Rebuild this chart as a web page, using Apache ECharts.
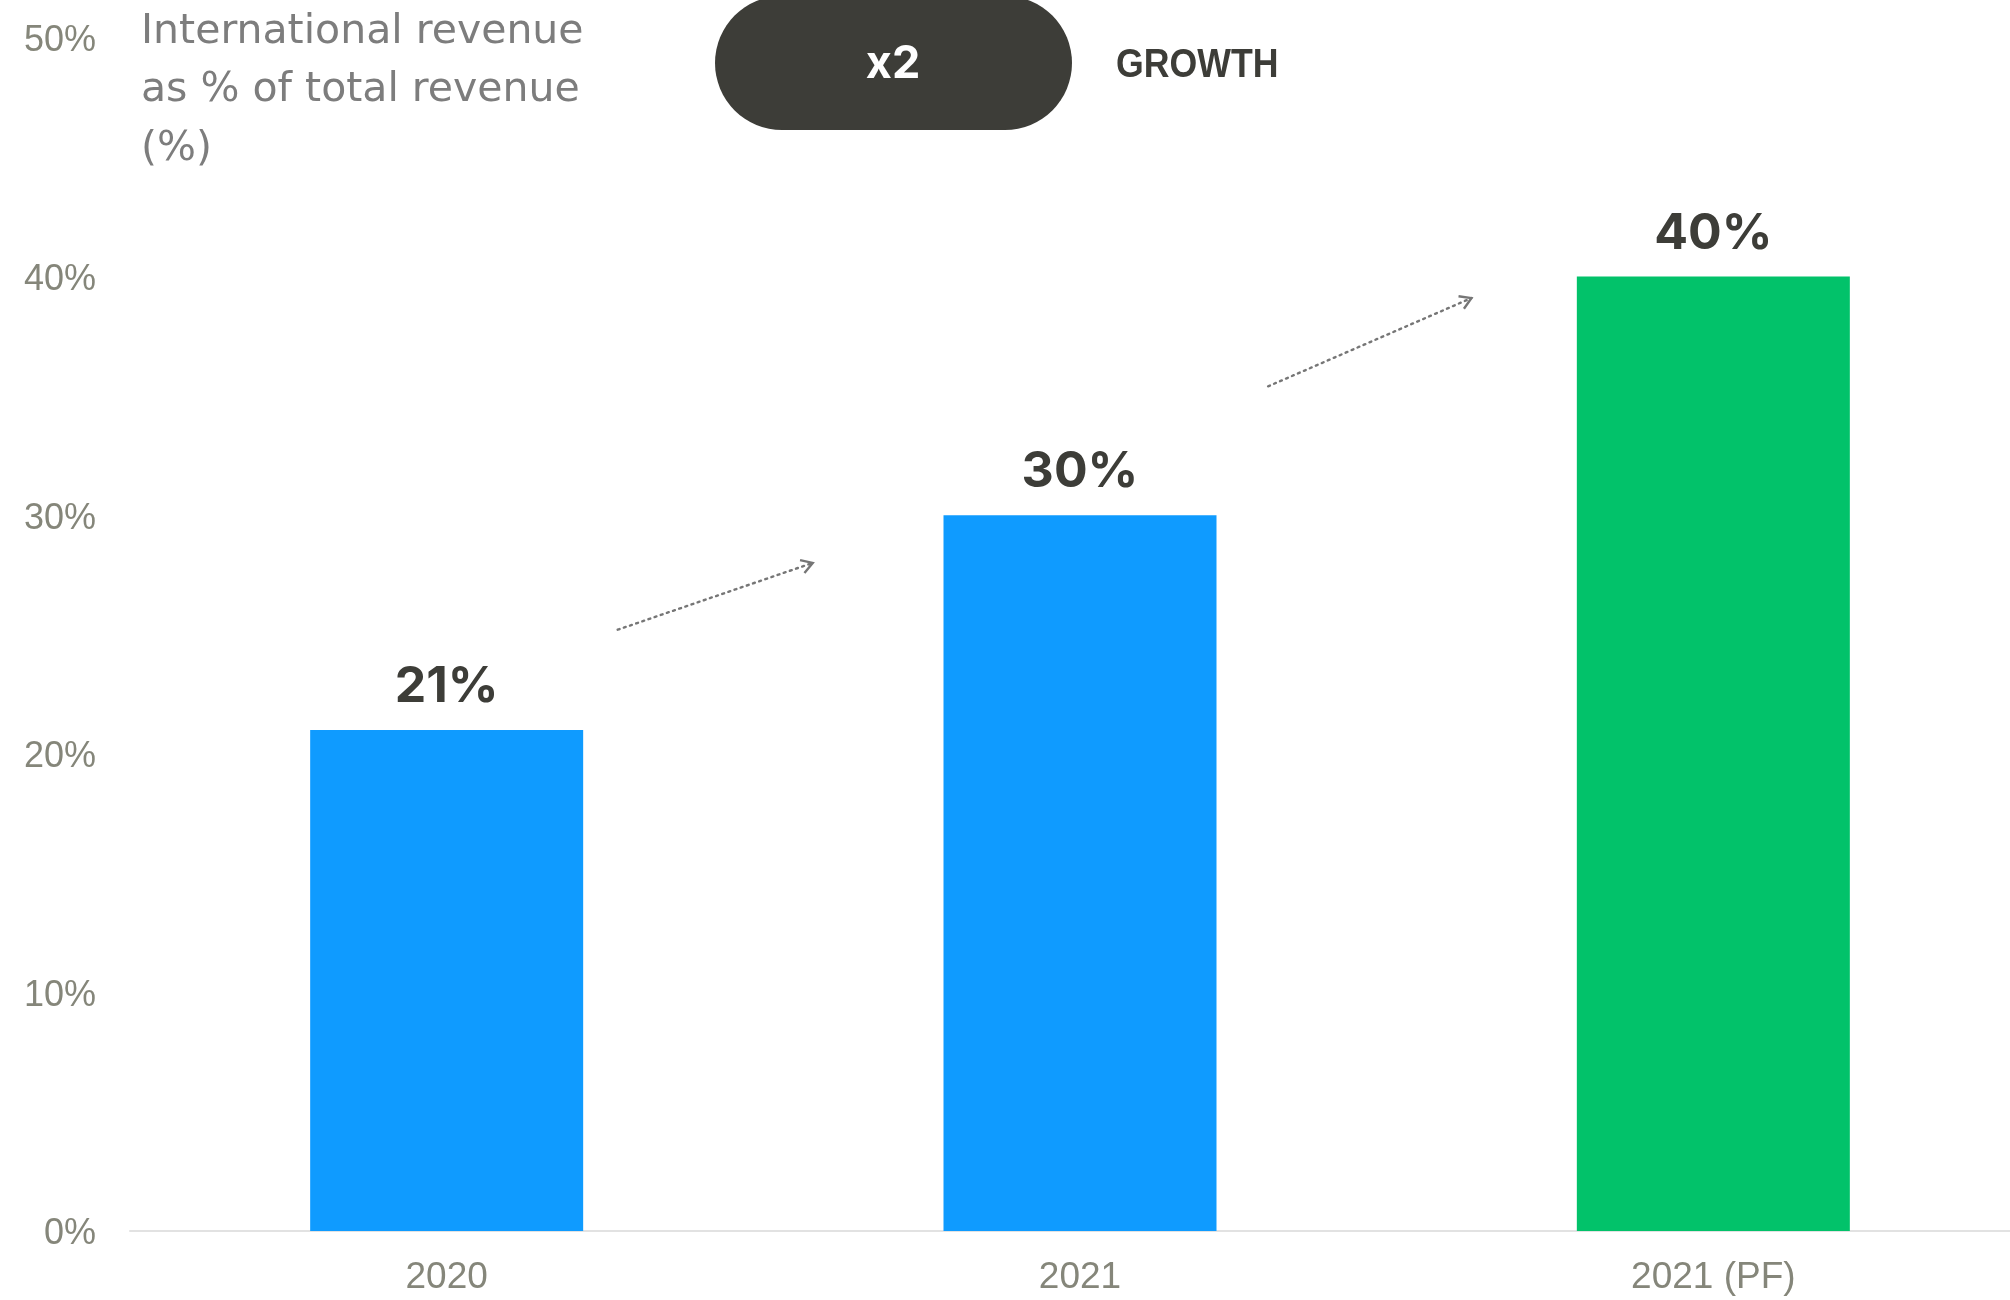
<!DOCTYPE html>
<html>
<head>
<meta charset="utf-8">
<title>International revenue share</title>
<script src="https://cdn.jsdelivr.net/npm/echarts@6/dist/echarts.min.js"></script>
<style>
  html, body { margin: 0; padding: 0; background: #ffffff; overflow: hidden; }
  /* plot runs slightly past the right edge of the page, so the baseline bleeds off */
  #chart { width: 2030px; height: 1300px; }
</style>
</head>
<body>
<div id="chart"></div>
<script>
// Chart data
const categories = ['2020', '2021', '2021 (PF)'];
const shareValues = [21, 30, 40];
const yTicks = { min: 0, max: 50, step: 10 };
const titleLines = ['International revenue', 'as % of total revenue', '(%)'];
const badgeText = 'x2';
const badgeCaption = 'GROWTH';

// Styling
const BLUE = '#0f9bff';
const GREEN = '#02c26a';
const DARK = '#3d3d38';
const AXIS_GRAY = '#85867a';
const barColors = [BLUE, BLUE, GREEN];

const chart = echarts.init(document.getElementById('chart'), null, { renderer: 'canvas' });

const option = {
  backgroundColor: '#ffffff',
  animation: false,
  grid: { left: 130, right: 0, top: 38, bottom: 69, containLabel: false },
  xAxis: {
    type: 'category',
    data: categories,
    axisLine: { show: true, lineStyle: { color: '#e2e2e2', width: 2 } },
    axisTick: { show: false },
    axisLabel: {
      color: AXIS_GRAY,
      fontFamily: 'Liberation Sans',
      fontSize: 37,
      margin: 28
    }
  },
  yAxis: {
    type: 'value',
    min: yTicks.min,
    max: yTicks.max,
    interval: yTicks.step,
    axisLine: { show: false },
    axisTick: { show: false },
    splitLine: { show: false },
    axisLabel: {
      margin: 34,
      formatter: '{v|{value}%}',
      rich: {
        v: {
          color: AXIS_GRAY,
          fontFamily: 'Liberation Sans',
          fontSize: 36,
          padding: [7, 0, 0, 0]
        }
      }
    }
  },
  title: {
    text: titleLines.join('\n'),
    left: 141,
    top: 3,
    padding: 0,
    textStyle: {
      color: '#7d7d7d',
      fontFamily: 'DejaVu Sans',
      fontWeight: 400,
      fontSize: 41,
      lineHeight: 58.5
    }
  },
  series: [{
    type: 'bar',
    data: shareValues.map((v, i) => ({ value: v, itemStyle: { color: barColors[i] } })),
    barWidth: 273,
    label: {
      show: true,
      position: 'top',
      distance: 18,
      formatter: '{c}%',
      color: DARK,
      fontFamily: 'Inter',
      fontWeight: 700,
      fontSize: 50
    }
  }]
};

chart.setOption(option);

// Growth badge and dotted trend arrows, placed from axis coordinates
function drawOverlay() {
  const px = (catPos, val) => {
    const a = chart.convertToPixel({ gridIndex: 0 }, [0, val]);
    const b = chart.convertToPixel({ gridIndex: 0 }, [1, val]);
    return [a[0] + (b[0] - a[0]) * catPos, a[1]];
  };

  function arrow(from, to) {
    const p0 = px(from[0], from[1]);
    const p1 = px(to[0], to[1]);
    const ang = Math.atan2(p1[1] - p0[1], p1[0] - p0[0]);
    const len = 13, spread = 0.55;
    const h1 = [p1[0] - len * Math.cos(ang - spread), p1[1] - len * Math.sin(ang - spread)];
    const h2 = [p1[0] - len * Math.cos(ang + spread), p1[1] - len * Math.sin(ang + spread)];
    return [
      {
        type: 'line',
        shape: { x1: p0[0], y1: p0[1], x2: p1[0], y2: p1[1] },
        style: { stroke: '#767676', lineWidth: 2.4, lineDash: [2, 4.5], lineCap: 'round' }
      },
      {
        type: 'polyline',
        shape: { points: [h1, p1, h2] },
        style: { stroke: '#767676', lineWidth: 2.4, fill: null }
      }
    ];
  }

  const elements = [
    {
      type: 'rect',
      shape: { x: 715, y: -4, width: 357, height: 134, r: 67 },
      style: { fill: DARK }
    },
    {
      type: 'text',
      x: 893, y: 64,
      style: {
        text: badgeText, fill: '#ffffff',
        font: '700 45px Inter', align: 'center', verticalAlign: 'middle'
      }
    },
    {
      type: 'text',
      x: 1116, y: 66,
      scaleX: 0.87,
      style: {
        text: badgeCaption, fill: DARK,
        font: '700 41px "Liberation Sans", sans-serif',
        align: 'left', verticalAlign: 'middle'
      }
    }
  ]
    .concat(arrow([0.27, 25.2], [0.578, 28.0]))
    .concat(arrow([1.297, 35.4], [1.618, 39.1]));

  chart.setOption({ graphic: { elements: elements } });
}
drawOverlay();
</script>
</body>
</html>
